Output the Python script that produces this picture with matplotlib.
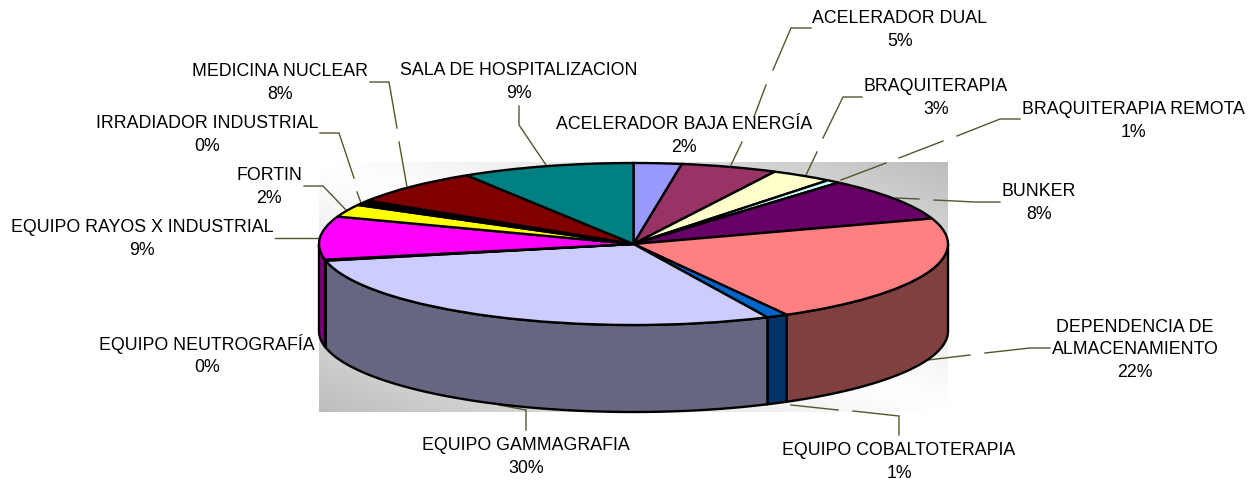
import numpy as np
import matplotlib
matplotlib.use('Agg')
import matplotlib.pyplot as plt
from matplotlib.colors import LinearSegmentedColormap

W, H = 1258, 484

names = ['ACELERADOR BAJA ENERGÍA', 'ACELERADOR DUAL', 'BRAQUITERAPIA', 'BRAQUITERAPIA REMOTA',
         'BUNKER', 'DEPENDENCIA DE\nALMACENAMIENTO', 'EQUIPO COBALTOTERAPIA', 'EQUIPO GAMMAGRAFIA',
         'EQUIPO NEUTROGRAFÍA', 'EQUIPO RAYOS X INDUSTRIAL', 'FORTIN', 'IRRADIADOR INDUSTRIAL',
         'MEDICINA NUCLEAR', 'SALA DE HOSPITALIZACION']
percent_labels = ['2%', '5%', '3%', '1%', '8%', '22%', '1%', '30%', '0%', '9%', '2%', '0%', '8%', '9%']
# slice sizes as drawn (the 3d view squeezes them a bit)
values = [2.46, 4.96, 3.18, 0.7, 8.6, 22.0, 1.1, 28.7, 0.2, 8.6, 2.5, 1.0, 7.1, 8.9]
top_colors = ['#9999FF', '#993366', '#FFFFCC', '#CCFFFF', '#660066', '#FF8080', '#0066CC',
              '#CCCCFF', '#000080', '#FF00FF', '#FFFF00', '#000000', '#800000', '#008080']
side_colors = ['#4C4C80', '#4C1933', '#808066', '#668080', '#330033', '#804040', '#003366',
               '#666680', '#000040', '#800080', '#808000', '#000000', '#400000', '#004040']

# label block centres and leader lines, pixels
label_pos = [(684, 136), (900, 30), (936, 98), (1133, 121), (1039, 203), (1135, 350), (899, 462),
             (526, 457), (207, 355), (142, 239), (269, 187), (207, 135), (280, 83), (519, 82)]
leaders = [
    [(731, 165), (742, 142)], [(754, 117), (766, 85)], [(773, 70), (791, 28), (811, 28)],
    [(806, 175), (817, 152)], [(823, 138), (843, 97), (862, 97)],
    [(841, 180), (886, 163)], [(899, 158), (943, 141)], [(957, 136), (1000, 119), (1020, 119)],
    [(896, 198), (919, 199)], [(934, 200), (975, 202), (1000, 202)],
    [(928, 360), (970, 355)], [(985, 353), (1030, 348), (1050, 348)],
    [(791, 405), (838, 410)], [(853, 411), (899, 416), (899, 435)],
    [(499, 405), (526, 410), (526, 430)],
    [(275, 238), (319, 238)],
    [(304, 186), (323, 186), (346, 210)],
    [(320, 133), (339, 133), (354, 178)], [(357, 192), (361, 203)],
    [(370, 82), (389, 82), (397, 128)], [(399, 142), (407, 187)],
    [(519, 106), (519, 125), (546, 165)],
]

cx, cy, rx, ry, depth = 633.5, 244, 314.5, 81, 87

fig = plt.figure(figsize=(W / 100, H / 100), dpi=100)

# pixel axes for background, leaders and labels
ax = fig.add_axes([0, 0, 1, 1])
ax.set_xlim(0, W)
ax.set_ylim(H, 0)
ax.axis('off')

u, v = np.meshgrid(np.linspace(0, 1, 300), np.linspace(0, 1, 200))
cmap = LinearSegmentedColormap.from_list('bg', ['#FFFFFF', '#BDBDBD'])
ax.imshow(np.abs(u - v) ** 1.15, extent=(319, 948, 412, 162), cmap=cmap, vmin=0, vmax=1, aspect='auto', zorder=1)
ax.set_xlim(0, W)
ax.set_ylim(H, 0)

for seg in leaders:
    xs, ys = zip(*seg)
    ax.plot(xs, ys, color='#55552F', lw=1, zorder=2, solid_joinstyle='miter')

for name, pct, (x, y) in zip(names, percent_labels, label_pos):
    ax.text(x, y, name + '\n' + pct, ha='center', va='center', fontsize=12.75, family='Liberation Sans',
            color='black', linespacing=1.46, zorder=3)

# pie axes: unit circle stretched to the ellipse
ax2 = fig.add_axes([0, 0, 1, 1])
ax2.patch.set_alpha(0)

frac = np.cumsum([0] + values) / sum(values)
angles = frac * 2 * np.pi
drop = depth / ry

# side walls for the slices on the front half
for i in range(len(values)):
    a0 = max(angles[i], np.pi / 2)
    a1 = min(angles[i + 1], 3 * np.pi / 2)
    if a1 <= a0:
        continue
    t = np.linspace(a0, a1, 60)
    px = np.sin(t)
    py = np.cos(t)
    ax2.fill(np.r_[px, px[::-1]], np.r_[py, py[::-1] - drop], facecolor=side_colors[i],
             edgecolor='black', lw=1.7, joinstyle='round', zorder=1)

ax2.pie(values, colors=top_colors, startangle=90, counterclock=False, radius=1,
        wedgeprops={'edgecolor': 'black', 'linewidth': 1.7}, normalize=True)
ax2.set_aspect('auto')
ax2.set_xlim(-cx / rx, (W - cx) / rx)
ax2.set_ylim((cy - H) / ry, cy / ry)
ax2.axis('off')

fig.savefig('out.png', dpi=100, facecolor='white')
